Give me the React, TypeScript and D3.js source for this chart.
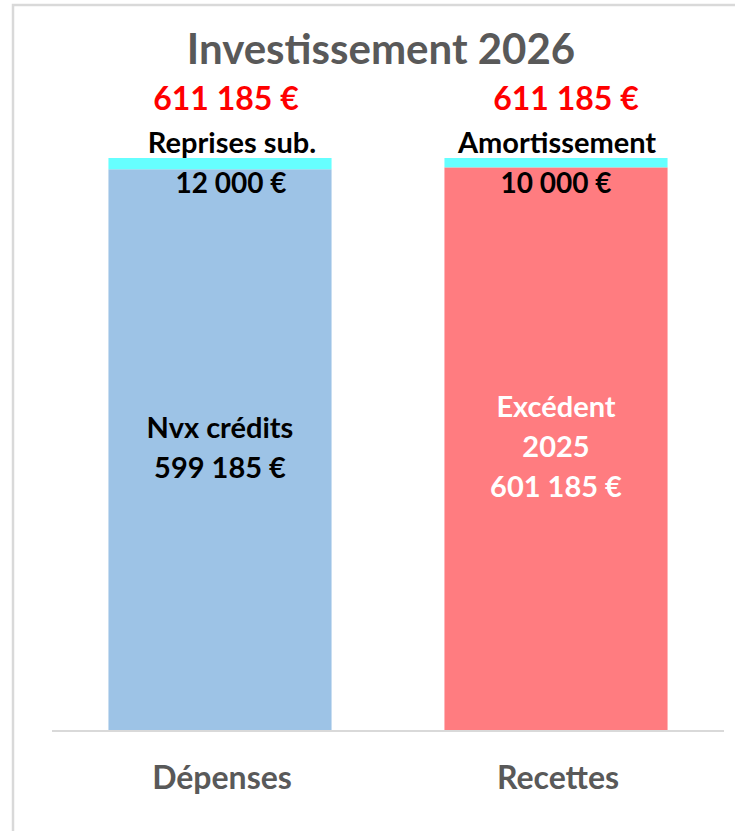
import React, { useRef, useEffect } from 'react';
import * as d3 from 'd3';

// values
const categories = ['Dépenses', 'Recettes'];
const baseValues = [599185, 601185];
const topValues = [12000, 10000];
const baseLabels = [['Nvx crédits'], ['Excédent', '2025']];
const topLabels = ['Reprises sub.', 'Amortissement'];
const baseColors = ['#9DC3E6', '#FF7C80'];
const baseTextColors = ['#000000', '#FFFFFF'];
const topColor = '#66FFFF';
const title = 'Investissement 2026';

const fmt = (v: number) => d3.format(',')(v).replace(/,/g, ' ') + ' €';

const W = 735;
const H = 831;
const FONT = "Lato, 'Open Sans', sans-serif";

const App = () => {
  const svgRef = useRef<SVGSVGElement>(null);

  useEffect(() => {
    const svg = d3.select(svgRef.current);
    svg.selectAll('*').remove();

    const data = categories.map((c, i) => ({
      cat: c,
      base: baseValues[i],
      top: topValues[i],
      total: baseValues[i] + topValues[i],
      i
    }));

    const x = d3.scaleBand<string>()
      .domain(categories)
      .range([52, 724])
      .paddingInner(0.336)
      .paddingOuter(0.168);

    const y = d3.scaleLinear()
      .domain([0, d3.max(data, (d) => d.total) as number])
      .range([731, 158]);

    // chart frame (only top/left edges visible in the crop)
    svg.append('rect')
      .attr('x', 13)
      .attr('y', 5)
      .attr('width', 800)
      .attr('height', 900)
      .attr('fill', 'white')
      .attr('stroke', '#D9D9D9')
      .attr('stroke-width', 2.5);

    svg.append('text')
      .attr('x', 381)
      .attr('y', 64)
      .attr('text-anchor', 'middle')
      .attr('font-family', FONT)
      .attr('font-weight', 'bold')
      .attr('font-size', 42)
      .attr('fill', '#595959')
      .text(title);

    // base segments
    svg.selectAll('.base')
      .data(data)
      .join('rect')
      .attr('class', 'base')
      .attr('x', (d) => x(d.cat) as number)
      .attr('width', x.bandwidth())
      .attr('y', (d) => y(d.base))
      .attr('height', (d) => y(0) - y(d.base))
      .attr('fill', (d) => baseColors[d.i]);

    // top segments
    svg.selectAll('.top')
      .data(data)
      .join('rect')
      .attr('class', 'top')
      .attr('x', (d) => x(d.cat) as number)
      .attr('width', x.bandwidth())
      .attr('y', (d) => y(d.total))
      .attr('height', (d) => y(d.base) - y(d.total))
      .attr('fill', topColor);

    // axis line
    svg.append('line')
      .attr('x1', 52)
      .attr('x2', 724)
      .attr('y1', y(0))
      .attr('y2', y(0))
      .attr('stroke', '#D9D9D9')
      .attr('stroke-width', 2);

    const cx = (d: any) => (x(d.cat) as number) + x.bandwidth() / 2;

    // totals in red
    svg.selectAll('.total')
      .data(data)
      .join('text')
      .attr('class', 'total')
      .attr('x', (d) => cx(d) + 6 + d.i * 4)
      .attr('y', (d) => y(d.total) - 48)
      .attr('text-anchor', 'middle')
      .attr('font-family', FONT)
      .attr('font-weight', 'bold')
      .attr('font-size', 32)
      .attr('fill', '#FF0000')
      .text((d) => fmt(d.total));

    // top segment names
    svg.selectAll('.topname')
      .data(data)
      .join('text')
      .attr('class', 'topname')
      .attr('x', (d) => cx(d) + 12 - d.i * 11)
      .attr('y', (d) => y(d.total) - 5)
      .attr('text-anchor', 'middle')
      .attr('font-family', FONT)
      .attr('font-weight', 'bold')
      .attr('font-size', 29)
      .attr('fill', '#000')
      .text((d) => topLabels[d.i]);

    // top segment values
    svg.selectAll('.topval')
      .data(data)
      .join('text')
      .attr('class', 'topval')
      .attr('x', (d) => cx(d) + 11 - d.i * 11)
      .attr('y', (d) => y(d.total) + 35)
      .attr('text-anchor', 'middle')
      .attr('font-family', FONT)
      .attr('font-weight', 'bold')
      .attr('font-size', 28)
      .attr('fill', '#000')
      .text((d) => fmt(d.top));

    // base segment labels (multi-line)
    data.forEach((d) => {
      const lines = [...baseLabels[d.i], fmt(d.base)];
      const mid = (y(0) + y(d.base)) / 2 + 8;
      svg.append('text')
        .attr('text-anchor', 'middle')
        .attr('font-family', FONT)
        .attr('font-weight', 'bold')
        .attr('font-size', 29)
        .attr('fill', baseTextColors[d.i])
        .selectAll('tspan')
        .data(lines)
        .join('tspan')
        .attr('x', cx(d))
        .attr('y', (_l, k) => mid + (k - (lines.length - 1) / 2) * 40)
        .text((l) => l);
    });

    // category labels
    svg.selectAll('.cat')
      .data(data)
      .join('text')
      .attr('class', 'cat')
      .attr('x', (d) => cx(d) + 2)
      .attr('y', 789)
      .attr('text-anchor', 'middle')
      .attr('font-family', FONT)
      .attr('font-weight', 'bold')
      .attr('font-size', 32)
      .attr('fill', '#595959')
      .text((d) => d.cat);
  }, []);

  return (
    <svg
      ref={svgRef}
      width={W}
      height={H}
      style={{ position: 'absolute', left: 0, top: 0, display: 'block' }}
    />
  );
};

export default App;
